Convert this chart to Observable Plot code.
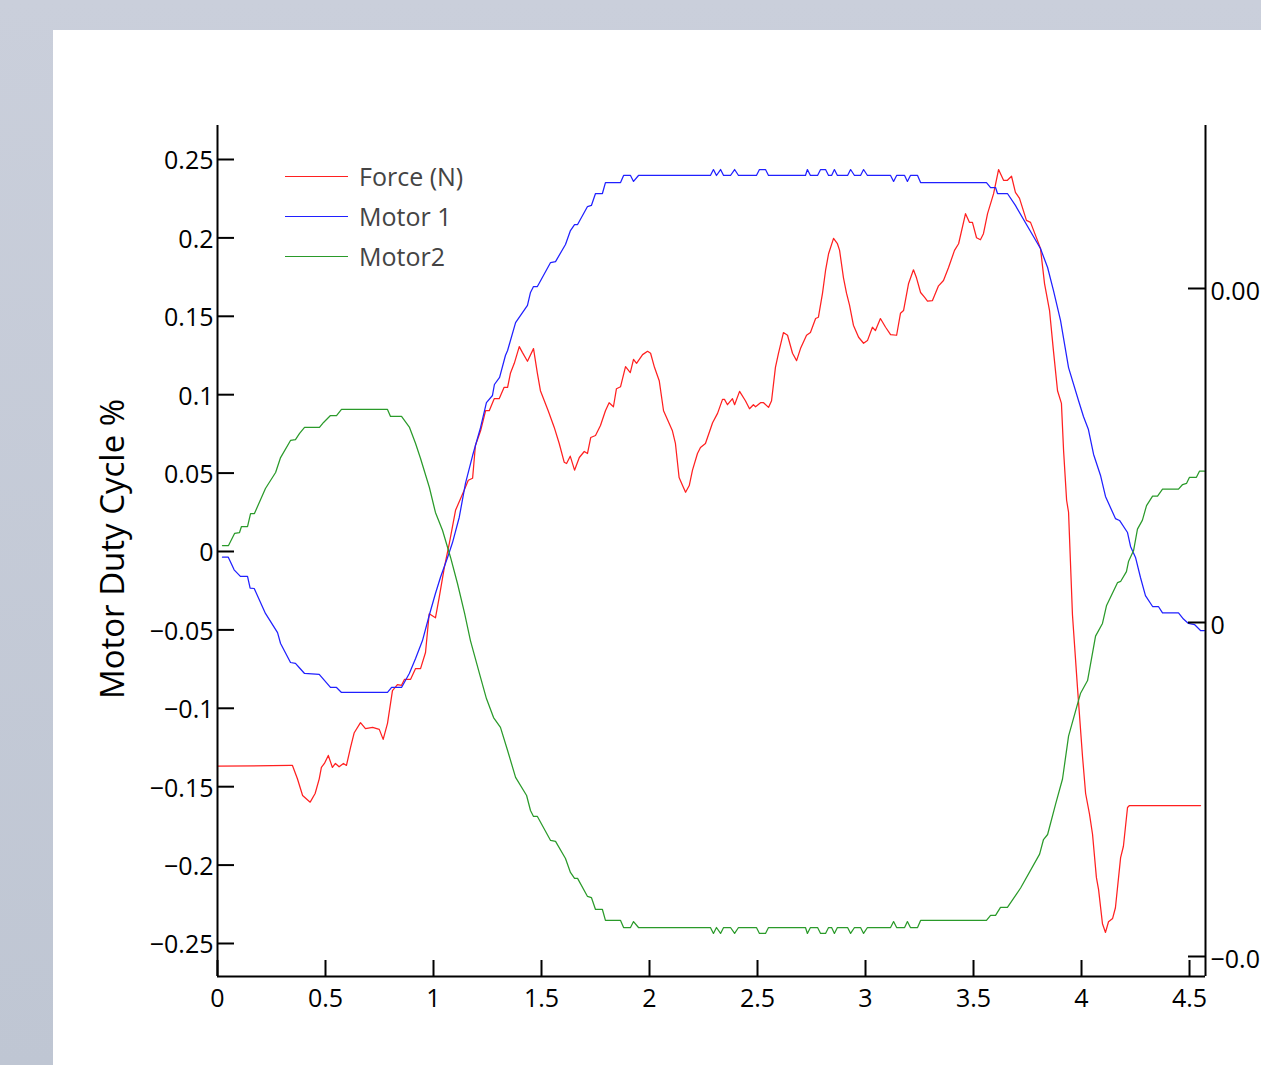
<!DOCTYPE html>
<html>
<head>
<meta charset="utf-8">
<script src="https://cdn.jsdelivr.net/npm/d3@7"></script>
<script src="https://cdn.jsdelivr.net/npm/@observablehq/plot@0.6"></script>
<style>
  html, body { margin: 0; padding: 0; }
  body { width: 1261px; height: 1065px; overflow: hidden; position: relative;
         background: linear-gradient(#cacfdb, #bfc6d3); font-family: "Open Sans", sans-serif; }
  #panel { position: absolute; left: 53px; top: 30px; width: 1208px; height: 1035px; background: #fff; overflow: hidden; }
  #panel svg { position: absolute; left: 0; top: 0; overflow: visible; }
  #ytitle { position: absolute; left: 111px; top: 549px; transform: translate(-50%, -50%) rotate(-90deg);
            white-space: nowrap; font-size: 33px; color: #000; }
  .leg { position: absolute; left: 285px; height: 0; width: 63px; }
  .legtxt { position: absolute; left: 359px; font-size: 25px; color: #444; line-height: 30px; white-space: nowrap; }
</style>
</head>
<body>
<div id="panel"></div>
<div id="ytitle">Motor Duty Cycle %</div>
<div id="legend"></div>
<script>
// ---- data ----
const seriesNames = ["Force (N)", "Motor 1", "Motor2"];
const seriesColors = ["#ff2020", "#2020ff", "#2a9a2a"];

const forceT = [0,0.337,0.347,0.370,0.394,0.429,0.452,0.471,0.481,0.495,
0.513,0.532,0.546,0.563,0.583,0.597,0.616,0.633,0.662,0.685,
0.718,0.749,0.767,0.787,0.810,0.833,0.852,0.866,0.894,0.917,
0.940,0.963,0.980,1.009,1.026,1.050,1.073,1.102,1.142,1.161,
1.181,1.194,1.218,1.241,1.258,1.281,1.304,1.327,1.343,1.356,
1.374,1.397,1.412,1.435,1.463,1.481,1.495,1.531,1.559,1.582,
1.605,1.616,1.633,1.653,1.675,1.698,1.713,1.728,1.750,1.773,
1.796,1.813,1.833,1.847,1.866,1.889,1.911,1.926,1.940,1.968,
1.991,2.005,2.023,2.045,2.065,2.083,2.106,2.120,2.137,2.153,
2.167,2.184,2.199,2.222,2.236,2.259,2.292,2.315,2.338,2.347,
2.361,2.384,2.394,2.417,2.444,2.463,2.481,2.491,2.514,2.528,
2.551,2.565,2.583,2.597,2.620,2.639,2.662,2.681,2.699,2.727,
2.745,2.769,2.782,2.801,2.815,2.829,2.852,2.870,2.880,2.898,
2.912,2.926,2.944,2.968,2.991,3.009,3.032,3.046,3.069,3.093,
3.116,3.144,3.162,3.176,3.199,3.222,3.236,3.255,3.273,3.287,
3.310,3.338,3.361,3.384,3.412,3.431,3.463,3.481,3.495,3.514,
3.532,3.546,3.565,3.593,3.616,3.639,3.657,3.676,3.694,3.713,
3.745,3.764,3.796,3.810,3.829,3.852,3.870,3.889,3.907,3.917,
3.931,3.940,3.958,3.981,4.005,4.019,4.037,4.051,4.069,4.079,
4.097,4.111,4.125,4.144,4.157,4.181,4.194,4.213,4.222,4.551];

const forceN = [-0.00215,-0.00214,-0.00214,-0.00234,-0.00259,-0.00269,-0.00256,-0.00234,-0.00217,-0.00211,
-0.00199,-0.00217,-0.00211,-0.00216,-0.00211,-0.00214,-0.00187,-0.00165,-0.00150,-0.00159,
-0.00157,-0.00160,-0.00175,-0.00151,-0.00102,-0.00093,-0.00094,-0.00085,-0.00085,-0.00069,
-0.00069,-0.00045,0.00013,0.00007,0.00037,0.00082,0.00118,0.00168,0.00198,0.00213,
0.00216,0.00265,0.00287,0.00317,0.00317,0.00335,0.00335,0.00352,0.00352,0.00373,
0.00388,0.00413,0.00404,0.00391,0.00410,0.00373,0.00347,0.00317,0.00292,0.00268,
0.00240,0.00238,0.00249,0.00228,0.00247,0.00256,0.00253,0.00277,0.00280,0.00295,
0.00317,0.00329,0.00323,0.00350,0.00353,0.00383,0.00374,0.00394,0.00388,0.00401,
0.00406,0.00403,0.00382,0.00362,0.00317,0.00304,0.00287,0.00268,0.00217,0.00205,
0.00195,0.00205,0.00228,0.00253,0.00262,0.00268,0.00299,0.00313,0.00334,0.00334,
0.00326,0.00335,0.00326,0.00346,0.00332,0.00320,0.00326,0.00323,0.00329,0.00329,
0.00322,0.00332,0.00382,0.00403,0.00434,0.00430,0.00403,0.00392,0.00410,0.00430,
0.00434,0.00455,0.00457,0.00493,0.00527,0.00552,0.00575,0.00567,0.00557,0.00516,
0.00493,0.00475,0.00445,0.00427,0.00418,0.00422,0.00442,0.00437,0.00455,0.00442,
0.00431,0.00430,0.00463,0.00467,0.00507,0.00528,0.00516,0.00494,0.00487,0.00481,
0.00482,0.00504,0.00512,0.00531,0.00557,0.00567,0.00612,0.00599,0.00599,0.00576,
0.00573,0.00582,0.00612,0.00642,0.00678,0.00662,0.00662,0.00668,0.00644,0.00635,
0.00602,0.00599,0.00572,0.00560,0.00507,0.00467,0.00407,0.00347,0.00328,0.00257,
0.00183,0.00165,0.00012,-0.00096,-0.00202,-0.00256,-0.00287,-0.00317,-0.00382,-0.00400,
-0.00451,-0.00464,-0.00448,-0.00443,-0.00427,-0.00352,-0.00335,-0.00277,-0.00274,-0.00274];

const motor1T = [0.023,0.050,0.077,0.106,0.139,0.151,0.170,0.222,0.278,0.292,
0.338,0.361,0.378,0.403,0.471,0.491,0.523,0.551,0.574,0.787,
0.806,0.852,0.888,0.917,0.949,0.980,1.009,1.032,1.065,1.088,
1.119,1.148,1.181,1.218,1.245,1.273,1.282,1.306,1.333,1.343,
1.380,1.435,1.449,1.463,1.481,1.542,1.565,1.611,1.634,1.653,
1.667,1.713,1.731,1.750,1.782,1.796,1.866,1.880,1.912,1.926,
1.949,2.282,2.296,2.310,2.329,2.343,2.375,2.394,2.412,2.495,
2.509,2.537,2.551,2.722,2.731,2.745,2.778,2.792,2.815,2.829,
2.843,2.856,2.870,2.917,2.931,2.949,2.977,2.991,3.009,3.116,
3.130,3.144,3.181,3.194,3.208,3.241,3.255,3.560,3.579,3.602,
3.611,3.657,3.694,3.810,3.843,3.870,3.903,3.940,3.986,4.009,
4.032,4.056,4.088,4.111,4.157,4.176,4.213,4.227,4.250,4.273,
4.296,4.329,4.356,4.375,4.449,4.472,4.495,4.523,4.551,4.569];

const motor1 = [-0.0036,-0.0036,-0.0117,-0.0159,-0.0159,-0.0234,-0.0236,-0.0395,-0.0517,-0.0587,
-0.0708,-0.0714,-0.0740,-0.0778,-0.0784,-0.0816,-0.0867,-0.0867,-0.0899,-0.0899,
-0.0867,-0.0867,-0.0778,-0.0682,-0.0568,-0.0408,-0.0268,-0.0166,-0.0038,0.0057,
0.0217,0.0434,0.0612,0.0791,0.0950,0.0995,0.1065,0.1110,0.1250,0.1282,
0.1460,0.1569,0.1652,0.1690,0.1690,0.1843,0.1849,0.1958,0.2047,0.2085,
0.2085,0.2200,0.2207,0.2283,0.2283,0.2353,0.2353,0.2398,0.2398,0.2360,
0.2398,0.2398,0.2436,0.2398,0.2436,0.2398,0.2398,0.2436,0.2398,0.2398,
0.2436,0.2436,0.2398,0.2398,0.2436,0.2398,0.2398,0.2436,0.2436,0.2398,
0.2398,0.2436,0.2398,0.2398,0.2436,0.2398,0.2398,0.2436,0.2398,0.2398,
0.2360,0.2398,0.2398,0.2360,0.2398,0.2398,0.2353,0.2353,0.2321,0.2321,
0.2283,0.2283,0.2207,0.1932,0.1811,0.1665,0.1473,0.1173,0.0963,0.0861,
0.0778,0.0619,0.0485,0.0351,0.0210,0.0198,0.0121,0.0032,-0.0038,-0.0166,
-0.0281,-0.0351,-0.0351,-0.0392,-0.0392,-0.0431,-0.0459,-0.0466,-0.0504,-0.0504];

const motor2T = [0.023,0.051,0.079,0.102,0.111,0.139,0.153,0.171,0.222,0.269,
0.292,0.338,0.361,0.380,0.403,0.472,0.491,0.523,0.551,0.574,
0.787,0.801,0.852,0.889,0.917,0.940,0.981,1.009,1.042,1.079,
1.111,1.144,1.171,1.218,1.245,1.278,1.310,1.343,1.380,1.431,
1.449,1.463,1.481,1.542,1.565,1.611,1.634,1.653,1.667,1.713,
1.731,1.750,1.782,1.796,1.866,1.880,1.912,1.926,1.949,2.282,
2.296,2.310,2.329,2.343,2.375,2.394,2.412,2.495,2.509,2.537,
2.551,2.722,2.731,2.745,2.778,2.792,2.815,2.829,2.843,2.856,
2.870,2.917,2.931,2.949,2.977,2.991,3.009,3.116,3.130,3.144,
3.181,3.194,3.208,3.241,3.255,3.560,3.579,3.602,3.625,3.657,
3.718,3.806,3.824,3.843,3.880,3.912,3.940,3.995,4.028,4.065,
4.097,4.116,4.167,4.181,4.208,4.218,4.241,4.259,4.282,4.301,
4.329,4.352,4.375,4.449,4.468,4.486,4.500,4.532,4.546,4.569];

const motor2 = [0.0038,0.0038,0.0115,0.0121,0.0159,0.0159,0.0242,0.0242,0.0402,0.0504,
0.0599,0.0708,0.0714,0.0753,0.0791,0.0791,0.0823,0.0867,0.0867,0.0906,
0.0906,0.0861,0.0861,0.0791,0.0689,0.0593,0.0408,0.0249,0.0134,-0.0038,
-0.0204,-0.0395,-0.0568,-0.0804,-0.0938,-0.1059,-0.1122,-0.1269,-0.1441,-0.1556,
-0.1652,-0.1690,-0.1690,-0.1843,-0.1849,-0.1958,-0.2047,-0.2085,-0.2085,-0.2200,
-0.2207,-0.2283,-0.2283,-0.2353,-0.2353,-0.2398,-0.2398,-0.2360,-0.2398,-0.2398,
-0.2436,-0.2398,-0.2436,-0.2398,-0.2398,-0.2436,-0.2398,-0.2398,-0.2436,-0.2436,
-0.2398,-0.2398,-0.2436,-0.2398,-0.2398,-0.2436,-0.2436,-0.2398,-0.2398,-0.2436,
-0.2398,-0.2398,-0.2436,-0.2398,-0.2398,-0.2436,-0.2398,-0.2398,-0.2360,-0.2398,
-0.2398,-0.2360,-0.2398,-0.2398,-0.2353,-0.2353,-0.2321,-0.2321,-0.2270,-0.2270,
-0.2146,-0.1930,-0.1837,-0.1805,-0.1611,-0.1451,-0.1178,-0.0906,-0.0823,-0.0540,
-0.0459,-0.0344,-0.0198,-0.0191,-0.0128,-0.0062,0.0006,0.0143,0.0200,0.0293,
0.0353,0.0353,0.0398,0.0398,0.0427,0.0434,0.0473,0.0473,0.0512,0.0512];

const xTicks = [0, 0.5, 1, 1.5, 2, 2.5, 3, 3.5, 4, 4.5];
const yTicks = [-0.25, -0.2, -0.15, -0.1, -0.05, 0, 0.05, 0.1, 0.15, 0.2, 0.25];
const forceTicks = [-0.005, 0, 0.005];
// right-axis labels as they are visible in the reference (cut at the picture edge)
const forceTickLabels = ["\u22120.0", "0", "0.00"];
const xDomain = [0, 4.574];
const yDomain = [-0.27105, 0.27168];
const forceDomain = [0, 0.005];
const forceRange = [-0.04528, 0.16773];

// ---- build ----
const W = 1208, H = 1035;
const mL = 164, mR = 56, mT = 95, mB = 89;
const innerW = W - mL - mR, innerH = H - mT - mB;
const f2l = d3.scaleLinear().domain(forceDomain).range(forceRange);
const fmt = d3.format("");

const forceData = forceT.map((t, i) => ({t, v: f2l(forceN[i])}));
const m1Data = motor1T.map((t, i) => ({t, v: motor1[i]}));
const m2Data = motor2T.map((t, i) => ({t, v: motor2[i]}));
const forceTickData = forceTicks.map((d, i) => ({v: f2l(d), label: forceTickLabels[i]}));

const chart = Plot.plot({
  width: W, height: H,
  marginLeft: mL, marginRight: mR, marginTop: mT, marginBottom: mB,
  x: {domain: xDomain},
  y: {domain: yDomain},
  style: {fontFamily: "Open Sans, sans-serif", fontSize: "25px", color: "#000", background: "transparent"},
  marks: [
    Plot.line(forceData, {x: "t", y: "v", stroke: seriesColors[0], strokeWidth: 1.25}),
    Plot.line(m1Data, {x: "t", y: "v", stroke: seriesColors[1], strokeWidth: 1.25}),
    Plot.line(m2Data, {x: "t", y: "v", stroke: seriesColors[2], strokeWidth: 1.25}),
    // axis lines
    Plot.ruleX([xDomain[0]], {stroke: "#000", strokeWidth: 2}),
    Plot.ruleX([xDomain[1]], {stroke: "#000", strokeWidth: 2}),
    Plot.ruleY([yDomain[0]], {stroke: "#000", strokeWidth: 2}),
    // inward ticks
    Plot.tickY(yTicks, {y: d => d, stroke: "#000", strokeWidth: 2, insetRight: innerW - 17}),
    Plot.tickY(forceTicks, {y: d => f2l(d), stroke: "#000", strokeWidth: 2, insetLeft: innerW - 17}),
    Plot.tickX(xTicks, {x: d => d, stroke: "#000", strokeWidth: 2, insetTop: innerH - 16}),
    // labels
    Plot.axisY(yTicks, {tickSize: 0, tickPadding: 4, dy: 2, tickFormat: fmt, label: null, fill: "#000"}),
    Plot.axisX(xTicks, {tickSize: 0, tickPadding: 13, tickFormat: fmt, label: null, fill: "#000"}),
    Plot.text(forceTickData, {x: xDomain[1], y: "v", text: "label", textAnchor: "start", dx: 5, dy: 4, fill: "#000"})
  ]
});
document.getElementById("panel").appendChild(chart);

// legend
const leg = document.getElementById("legend");
seriesNames.forEach((name, i) => {
  const y = 176 + i * 40;
  const line = document.createElement("div");
  line.className = "leg";
  line.style.top = y + "px";
  line.style.borderTop = "1px solid " + seriesColors[i];
  leg.appendChild(line);
  const txt = document.createElement("div");
  txt.className = "legtxt";
  txt.style.top = (y - 15) + "px";
  txt.textContent = name;
  leg.appendChild(txt);
});
</script>
</body>
</html>
